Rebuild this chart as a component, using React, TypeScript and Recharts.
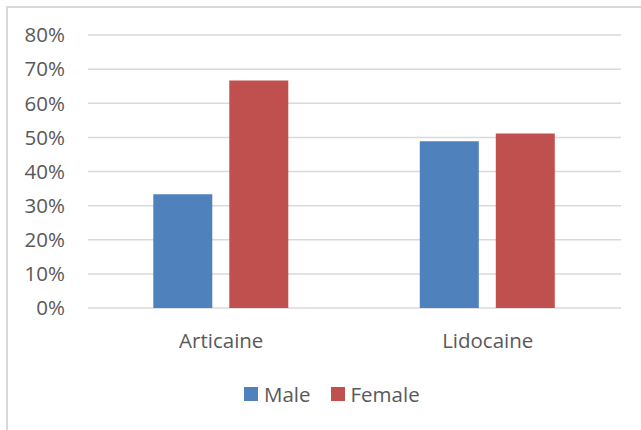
import { BarChart, Bar, XAxis, YAxis, CartesianGrid, Legend } from "recharts";

const categories = ["Articaine", "Lidocaine"];
const male = [0.333, 0.489];
const female = [0.667, 0.511];
const yTicks = [0, 0.1, 0.2, 0.3, 0.4, 0.5, 0.6, 0.7, 0.8];
const seriesOrder = ["Male", "Female"];

const data = categories.map((name, i) => ({ name, male: male[i], female: female[i] }));

const FONT = "'Open Sans', sans-serif";
const TEXT = "#595959";

function LegendContent({ payload }: any) {
  const items = [...(payload || [])].sort(
    (a: any, b: any) => seriesOrder.indexOf(a.value) - seriesOrder.indexOf(b.value)
  );
  return (
    <div style={{ display: "flex", alignItems: "center", fontFamily: FONT, fontSize: 20.5, color: TEXT }}>
      {items.map((p: any) => (
        <div key={p.value} style={{ display: "flex", alignItems: "center", marginRight: 20 }}>
          <span style={{ display: "inline-block", width: 14, height: 14, background: p.color, marginRight: 6 }} />
          <span>{p.value}</span>
        </div>
      ))}
    </div>
  );
}

export default function App() {
  return (
    <div style={{ position: "absolute", left: 0, top: 0, width: 641, height: 430, background: "#fff" }}>
      <div
        style={{
          position: "absolute", left: 6, top: 6, right: 0, bottom: 0,
          borderLeft: "2px solid #d9d9d9", borderTop: "2px solid #d9d9d9",
        }}
      />
      <BarChart
        width={641}
        height={430}
        data={data}
        margin={{ top: 35, right: 20, bottom: 92, left: 0 }}
        barCategoryGap="24.5%"
        barGap={17}
      >
        <CartesianGrid vertical={false} stroke="#d9d9d9" strokeWidth={1.5} />
        <XAxis
          dataKey="name"
          height={30}
          axisLine={false}
          tickLine={false}
          tickSize={0}
          tickMargin={25}
          tick={{ fill: TEXT, fontSize: 20.5, fontFamily: FONT }}
        />
        <YAxis
          width={88}
          domain={[0, 0.8]}
          ticks={yTicks}
          tickFormatter={(v: number) => `${Math.round(v * 100)}%`}
          axisLine={false}
          tickLine={false}
          tickSize={0}
          tickMargin={23}
          tick={{ fill: TEXT, fontSize: 20.5, fontFamily: FONT }}
        />
        <Legend
          layout="horizontal"
          verticalAlign="middle"
          align="center"
          content={<LegendContent />}
          wrapperStyle={{ top: 380, left: 244, width: 300 }}
        />
        <Bar dataKey="male" name="Male" fill="#4f81bd" isAnimationActive={false} />
        <Bar dataKey="female" name="Female" fill="#c0504d" isAnimationActive={false} />
      </BarChart>
    </div>
  );
}
